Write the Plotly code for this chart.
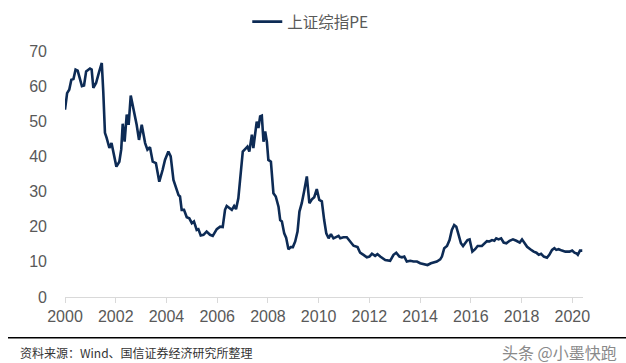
import plotly.graph_objects as go

# Months elapsed since Jan 2000 and Shanghai Composite PE
months = [0, 1, 2, 3, 4, 5, 6, 7, 8, 9, 10, 11.8, 12.6, 13.4, 14.7, 16.2, 17.4, 18.1, 18.9, 19.7,
          21, 22, 23.2, 24.3, 25.7, 26.6, 27.3, 28.2, 29.2, 30.1, 31.1, 32.3, 33.9, 35, 36.3, 37.9,
          39, 40.2, 41.5, 43, 44.6, 46.2, 47.3, 48.9, 50, 51.3, 52.4, 53.7, 54.4, 55.2, 56.3, 57.6,
          58.8, 60, 61, 62.3, 63.1, 64.2, 65.5, 67, 68.6, 69.9, 71.8, 73.4, 74.6, 75.7, 76.5, 77.8,
          78.9, 80, 80.9, 82, 83.2, 84.1, 85.2, 86.3, 87.2, 88.4, 89.1, 89.9, 90.7, 91.5, 92.3, 93.1,
          93.9, 94.7, 95.5, 96.2, 97.4, 98.6, 99.7, 101, 101.8, 102.6, 103.7, 104.6, 105.7, 106.8,
          107.8, 108.9, 110, 110.9, 112, 113.1, 114.4, 115.6, 116.8, 117.9, 119.1, 120.3, 121.5,
          122.6, 123.6, 124.7, 125.8, 127, 128.3, 129.4, 130.2, 131.7, 133.3, 134.9, 136.5, 138.4,
          139.6, 141.2, 142.8, 144, 145.2, 146.7, 147.8, 149.1, 151.5, 153.8, 155.4, 156.7, 158.2,
          159.4, 160.5, 161.7, 163.3, 164.9, 166.5, 168, 169.6, 171.5, 173.1, 174.7, 175.9, 177.5,
          178.3, 179.4, 180.7, 181.9, 183, 184.1, 185.1, 186.2, 187.3, 188.3, 189.4, 190.4, 191.4,
          192.7, 194, 195.2, 197.2, 198.8, 199.6, 200.8, 202, 203.1, 204, 205.1, 206.3, 207.5,
          208.8, 210.3, 211.9, 213.5, 215.1, 216.2, 217.3, 218.6, 220.1, 221.7, 223, 224.1, 225.2,
          226.5, 228, 229.1, 230.4, 231.5, 232.4, 233.5, 235.1, 236.7, 238.7, 239.9, 241, 242,
          242.6, 243.6, 244.7]
pe = [53.3, 58, 59, 61.8, 62, 64.7, 64.4, 62.3, 60, 60.2, 64.2, 65, 64.7, 59.5, 60.9, 64.2, 66.6, 58.5, 46.7, 45.3,
      42.4, 43.8, 40.5, 37.1, 38.5, 42, 49.3, 44.2, 51.9, 49, 57.3, 53.8, 49, 44.7, 49, 43.8,
      41.9, 42.6, 38.5, 38.1, 32.8, 36.2, 39, 41.4, 40, 33.3, 31.4, 29, 28.6, 24.8, 24.8, 22.7,
      22.4, 21, 21.5, 19.1, 19.3, 17.5, 17.7, 18.6, 17.7, 17.4, 19.3, 20, 19.9, 24.8, 25.9, 25.3,
      24.8, 25.9, 25, 28.1, 37.1, 41.4, 42.1, 42.8, 41.4, 46.2, 42.4, 47.1, 49.9, 48.1, 51.4, 51.6,
      44.2, 47.1, 44.2, 39, 38.5, 29.5, 28.6, 25.7, 21.9, 21.5, 18.1, 16.9, 13.6, 14.2,
      14.2, 15.8, 18.6, 24.3, 26.7, 30, 34.3, 26.7, 27.8, 28.4, 30.7, 27.6, 27.2,
      21.9, 18.1, 16.7, 17.9, 16.7, 17.2, 17.4, 16.7, 17, 17, 15.8, 14.6, 14.2,
      12.6, 12, 11.3, 11.5, 12.3, 11.7, 12.2, 11.5, 10.5, 10.3, 12, 12.6, 11.5,
      11.3, 11.5, 10.1, 10.3, 10.1, 10.1, 9.6, 9.3, 9.1, 9.6, 9.9, 10.1, 10.7,
      11.5, 13.9, 14.5, 16.2, 19.1, 20.5, 20, 17.7, 15.3, 14.5, 15.5, 16.2, 16.4,
      12.9, 13.6, 14.5, 14.5, 15.3, 15.9, 15.8, 16.2, 16, 16.7, 16.4, 16.7, 15.5,
      15.3, 16, 16.4, 16, 15.5, 16.4, 15.3, 14.3, 13.6, 12.9, 12.6, 12, 12.3,
      11.5, 11.2, 12, 13.4, 13.9, 13.4, 13.6, 13.2, 12.9, 12.9, 13.2, 12.6, 12.4,
      12, 13.2, 13.2]
tick_years = [2000, 2002, 2004, 2006, 2008, 2010, 2012, 2014, 2016, 2018, 2020]
y_ticks = [0, 10, 20, 30, 40, 50, 60, 70]
series_name = "上证综指PE"
source_text = "资料来源：Wind、国信证券经济研究所整理"
watermark = "头条 @小墨快跑"

x_years = [2000 + m / 12 for m in months]

fig = go.Figure()
fig.add_trace(go.Scatter(
    x=x_years, y=pe, mode="lines", name=series_name,
    line=dict(color="#0d2b55", width=2.6),
))

fig.update_layout(
    width=626, height=363,
    margin=dict(l=65, r=43, t=51, b=66, autoexpand=False),
    paper_bgcolor="white", plot_bgcolor="white",
    font=dict(family="Liberation Sans, Arial, Noto Sans CJK SC", color="#595959"),
    showlegend=True,
    legend=dict(
        orientation="h", xref="container", yref="container",
        x=0.395, xanchor="left", y=1 - 22 / 363, yanchor="middle",
        font=dict(size=15.5, color="#595959", family="Noto Sans CJK SC, Liberation Sans"),
        bgcolor="rgba(0,0,0,0)",
    ),
    xaxis=dict(
        range=[2000, 2020.42], tickvals=tick_years,
        ticktext=[str(t) for t in tick_years],
        showgrid=False, zeroline=False,
        showline=True, linecolor="#d9d9d9", linewidth=1,
        ticks="outside", ticklen=5, tickcolor="#d9d9d9",
        tickfont=dict(size=16, color="#595959"),
        automargin=False,
    ),
    yaxis=dict(
        range=[0, 70], tickvals=y_ticks,
        showgrid=False, zeroline=False, showline=False,
        ticks="", ticklabelstandoff=17,
        tickfont=dict(size=16, color="#595959"),
        automargin=False,
    ),
)

fig.add_shape(type="line", xref="paper", yref="paper",
              x0=(8 - 65) / 518, x1=(626 - 65) / 518,
              y0=(297 - 337.7) / 246, y1=(297 - 337.7) / 246,
              line=dict(color="black", width=1.5))

fig.add_annotation(xref="paper", yref="paper", x=(18 - 65) / 518, y=(297 - 352) / 246,
                   xanchor="left", yanchor="middle", showarrow=False, text=source_text,
                   font=dict(size=12, color="#333333", family="Noto Sans CJK SC"))

fig.add_annotation(xref="paper", yref="paper", x=(619 - 65) / 518, y=(297 - 352) / 246,
                   xanchor="right", yanchor="middle", showarrow=False, text=watermark,
                   font=dict(size=16, color="#8a8a8a", family="Noto Sans CJK SC"))

fig.write_html(
    "out.html",
    config={"displayModeBar": False},
    post_script="document.body.style.margin='0';document.body.style.padding='0';document.body.style.overflow='hidden';",
)
